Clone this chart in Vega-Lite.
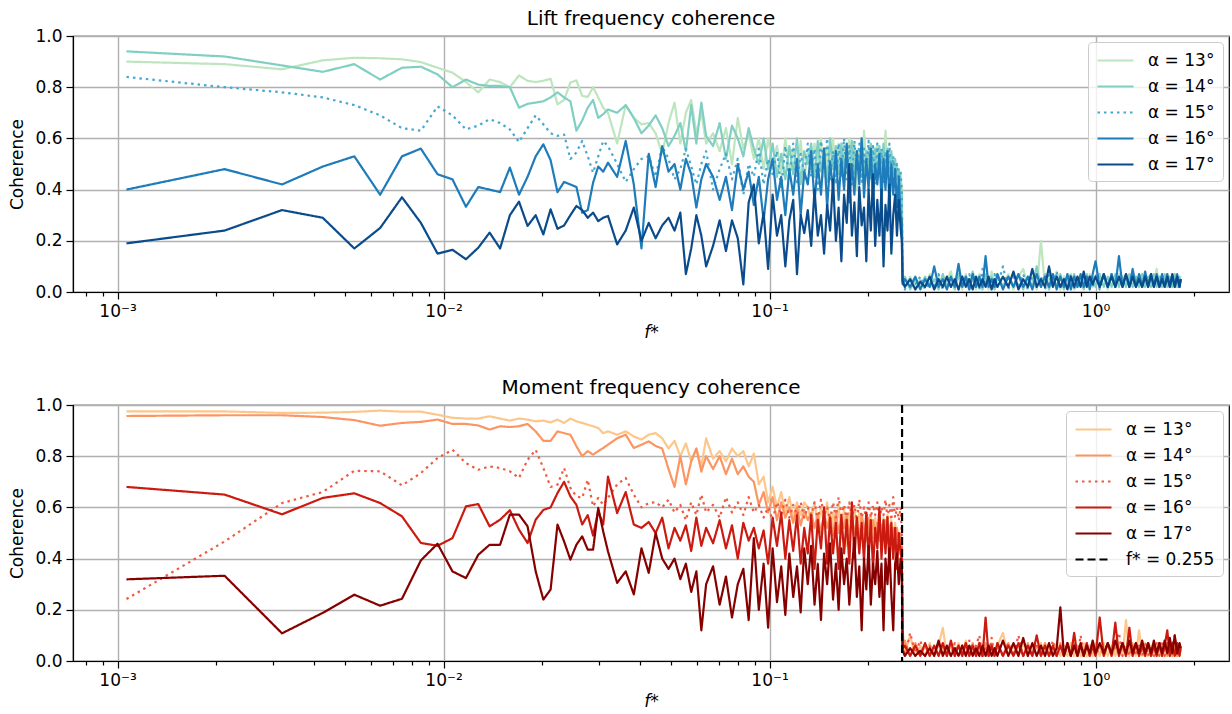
{
"$schema": "https://vega.github.io/schema/vega-lite/v6.json",
"padding": {"left": 8, "top": 8, "right": 1, "bottom": 2},
"background": "white",
"config": {
  "font": "DejaVu Sans",
  "view": {"stroke": "black", "strokeWidth": 1.2},
  "title": {"font": "DejaVu Sans", "fontSize": 20, "fontWeight": "normal", "color": "black", "anchor": "middle", "offset": -2},
  "axis": {"labelFont": "DejaVu Sans", "labelFontSize": 17, "labelColor": "black", "titleFont": "DejaVu Sans", "titleFontSize": 17, "titleFontWeight": "normal", "titleColor": "black", "tickColor": "black", "tickWidth": 1.2, "domainColor": "black", "domainWidth": 1.2, "gridColor": "#b0b0b0", "gridWidth": 1.4, "labelPadding": 4},
  "legend": {"orient": "top-right", "offset": 6, "fillColor": "rgba(255,255,255,0.8)", "strokeColor": "#cccccc", "cornerRadius": 4, "padding": 8, "labelFont": "DejaVu Sans", "labelFontSize": 17, "labelColor": "black", "symbolType": "M-1,0H3", "symbolStrokeWidth": 2.2, "symbolSize": 324, "rowPadding": 7, "labelLimit": 300, "labelOffset": 31}
},
"datasets": {
"lift": [
{"f":0.001065,"a13":0.90,"a14":0.94,"a15":0.84,"a16":0.40,"a17":0.19},
{"f":0.00213,"a13":0.89,"a14":0.92,"a15":0.80,"a16":0.48,"a17":0.24},
{"f":0.003195,"a13":0.87,"a14":0.885,"a15":0.78,"a16":0.42,"a17":0.32},
{"f":0.00426,"a13":0.905,"a14":0.86,"a15":0.76,"a16":0.49,"a17":0.29},
{"f":0.005325,"a13":0.915,"a14":0.89,"a15":0.73,"a16":0.53,"a17":0.17},
{"f":0.00639,"a13":0.913,"a14":0.83,"a15":0.69,"a16":0.38,"a17":0.25},
{"f":0.007455,"a13":0.909,"a14":0.876,"a15":0.64,"a16":0.53,"a17":0.37},
{"f":0.00852,"a13":0.898,"a14":0.88,"a15":0.63,"a16":0.56,"a17":0.27},
{"f":0.009585,"a13":0.876,"a14":0.85,"a15":0.725,"a16":0.46,"a17":0.15},
{"f":0.01065,"a13":0.857,"a14":0.80,"a15":0.69,"a16":0.44,"a17":0.165},
{"f":0.011715,"a13":0.82,"a14":0.83,"a15":0.635,"a16":0.333,"a17":0.128},
{"f":0.01278,"a13":0.78,"a14":0.81,"a15":0.65,"a16":0.41,"a17":0.173},
{"f":0.013845,"a13":0.83,"a14":0.805,"a15":0.675,"a16":0.40,"a17":0.232},
{"f":0.01491,"a13":0.82,"a14":0.805,"a15":0.66,"a16":0.39,"a17":0.17},
{"f":0.015975,"a13":0.80,"a14":0.80,"a15":0.635,"a16":0.486,"a17":0.30},
{"f":0.01704,"a13":0.846,"a14":0.72,"a15":0.586,"a16":0.38,"a17":0.353},
{"f":0.018105,"a13":0.825,"a14":0.735,"a15":0.64,"a16":0.45,"a17":0.258},
{"f":0.01917,"a13":0.82,"a14":0.74,"a15":0.69,"a16":0.53,"a17":0.30},
{"f":0.020235,"a13":0.825,"a14":0.745,"a15":0.655,"a16":0.577,"a17":0.225},
{"f":0.0213,"a13":0.833,"a14":0.76,"a15":0.62,"a16":0.515,"a17":0.323},
{"f":0.022365,"a13":0.733,"a14":0.78,"a15":0.61,"a16":0.39,"a17":0.247},
{"f":0.02343,"a13":0.75,"a14":0.76,"a15":0.615,"a16":0.43,"a17":0.26},
{"f":0.024495,"a13":0.818,"a14":0.745,"a15":0.52,"a16":0.42,"a17":0.30},
{"f":0.02556,"a13":0.827,"a14":0.63,"a15":0.545,"a16":0.41,"a17":0.336},
{"f":0.026625,"a13":0.766,"a14":0.67,"a15":0.59,"a16":0.31,"a17":0.32},
{"f":0.02769,"a13":0.762,"a14":0.72,"a15":0.53,"a16":0.32,"a17":0.29},
{"f":0.028755,"a13":0.80,"a14":0.75,"a15":0.466,"a16":0.427,"a17":0.31},
{"f":0.02982,"a13":0.76,"a14":0.68,"a15":0.53,"a16":0.49,"a17":0.277},
{"f":0.030885,"a13":0.72,"a14":0.695,"a15":0.59,"a16":0.47,"a17":0.29},
{"f":0.03195,"a13":0.70,"a14":0.713,"a15":0.57,"a16":0.505,"a17":0.297},
{"f":0.03408,"a13":0.58,"a14":0.70,"a15":0.50,"a16":0.45,"a17":0.186},
{"f":0.03621,"a13":0.73,"a14":0.73,"a15":0.43,"a16":0.59,"a17":0.24},
{"f":0.03834,"a13":0.68,"a14":0.68,"a15":0.48,"a16":0.42,"a17":0.33},
{"f":0.04047,"a13":0.655,"a14":0.62,"a15":0.52,"a16":0.17,"a17":0.20},
{"f":0.0426,"a13":0.66,"a14":0.65,"a15":0.53,"a16":0.54,"a17":0.27},
{"f":0.04473,"a13":0.62,"a14":0.69,"a15":0.45,"a16":0.41,"a17":0.21},
{"f":0.04686,"a13":0.54,"a14":0.64,"a15":0.57,"a16":0.57,"a17":0.26},
{"f":0.04899,"a13":0.66,"a14":0.57,"a15":0.52,"a16":0.47,"a17":0.29},
{"f":0.05112,"a13":0.74,"a14":0.61,"a15":0.44,"a16":0.50,"a17":0.24},
{"f":0.05325,"a13":0.58,"a14":0.66,"a15":0.48,"a16":0.40,"a17":0.31},
{"f":0.05538,"a13":0.70,"a14":0.55,"a15":0.56,"a16":0.52,"a17":0.07},
{"f":0.05751,"a13":0.75,"a14":0.73,"a15":0.49,"a16":0.46,"a17":0.17},
{"f":0.05964,"a13":0.62,"a14":0.58,"a15":0.42,"a16":0.33,"a17":0.30},
{"f":0.06177,"a13":0.70,"a14":0.74,"a15":0.50,"a16":0.44,"a17":0.22},
{"f":0.0639,"a13":0.58,"a14":0.61,"a15":0.55,"a16":0.50,"a17":0.10},
{"f":0.0671,"a13":0.62,"a14":0.57,"a15":0.40,"a16":0.45,"a17":0.18},
{"f":0.0703,"a13":0.55,"a14":0.66,"a15":0.48,"a16":0.36,"a17":0.28},
{"f":0.0735,"a13":0.64,"a14":0.52,"a15":0.54,"a16":0.45,"a17":0.16},
{"f":0.0767,"a13":0.50,"a14":0.65,"a15":0.44,"a16":0.32,"a17":0.28},
{"f":0.0799,"a13":0.68,"a14":0.60,"a15":0.52,"a16":0.50,"a17":0.21},
{"f":0.0831,"a13":0.56,"a14":0.53,"a15":0.38,"a16":0.40,"a17":0.03},
{"f":0.0863,"a13":0.62,"a14":0.64,"a15":0.50,"a16":0.47,"a17":0.35},
{"f":0.0895,"a13":0.52,"a14":0.56,"a15":0.45,"a16":0.34,"a17":0.42},
{"f":0.0927,"a13":0.60,"a14":0.50,"a15":0.56,"a16":0.45,"a17":0.19},
{"f":0.0959,"a13":0.48,"a14":0.60,"a15":0.42,"a16":0.28,"a17":0.31},
{"f":0.0990,"a13":0.60,"a14":0.48,"a15":0.52,"a16":0.44,"a17":0.09},
{"f":0.1022,"a13":0.50,"a14":0.58,"a15":0.46,"a16":0.52,"a17":0.38},
{"f":0.1054,"a13":0.57,"a14":0.45,"a15":0.55,"a16":0.36,"a17":0.22},
{"f":0.1086,"a13":0.46,"a14":0.54,"a15":0.40,"a16":0.45,"a17":0.30},
{"f":0.1118,"a13":0.60,"a14":0.44,"a15":0.57,"a16":0.30,"a17":0.10},
{"f":0.1150,"a13":0.47,"a14":0.57,"a15":0.44,"a16":0.48,"a17":0.28},
{"f":0.1182,"a13":0.56,"a14":0.46,"a15":0.58,"a16":0.38,"a17":0.36},
{"f":0.1214,"a13":0.48,"a14":0.60,"a15":0.42,"a16":0.52,"a17":0.07},
{"f":0.1246,"a13":0.59,"a14":0.42,"a15":0.54,"a16":0.30,"a17":0.30},
{"f":0.1278,"a13":0.44,"a14":0.55,"a15":0.46,"a16":0.47,"a17":0.23},
{"f":0.1310,"a13":0.55,"a14":0.50,"a15":0.58,"a16":0.42,"a17":0.32},
{"f":0.1342,"a13":0.46,"a14":0.58,"a15":0.45,"a16":0.55,"a17":0.18},
{"f":0.1374,"a13":0.58,"a14":0.45,"a15":0.56,"a16":0.35,"a17":0.40},
{"f":0.1406,"a13":0.50,"a14":0.59,"a15":0.40,"a16":0.50,"a17":0.22},
{"f":0.1438,"a13":0.60,"a14":0.47,"a15":0.59,"a16":0.38,"a17":0.30},
{"f":0.1470,"a13":0.45,"a14":0.56,"a15":0.48,"a16":0.56,"a17":0.15},
{"f":0.1502,"a13":0.57,"a14":0.43,"a15":0.60,"a16":0.33,"a17":0.34},
{"f":0.1534,"a13":0.48,"a14":0.60,"a15":0.44,"a16":0.51,"a17":0.24},
{"f":0.1566,"a13":0.60,"a14":0.48,"a15":0.55,"a16":0.40,"a17":0.44},
{"f":0.1598,"a13":0.44,"a14":0.57,"a15":0.42,"a16":0.55,"a17":0.20},
{"f":0.1629,"a13":0.58,"a14":0.46,"a15":0.58,"a16":0.36,"a17":0.33},
{"f":0.1661,"a13":0.50,"a14":0.58,"a15":0.45,"a16":0.52,"a17":0.12},
{"f":0.1693,"a13":0.57,"a14":0.47,"a15":0.60,"a16":0.40,"a17":0.38},
{"f":0.1725,"a13":0.47,"a14":0.56,"a15":0.44,"a16":0.58,"a17":0.27},
{"f":0.1757,"a13":0.60,"a14":0.44,"a15":0.57,"a16":0.35,"a17":0.50},
{"f":0.1789,"a13":0.48,"a14":0.59,"a15":0.42,"a16":0.50,"a17":0.22},
{"f":0.1821,"a13":0.58,"a14":0.46,"a15":0.59,"a16":0.38,"a17":0.35},
{"f":0.1853,"a13":0.40,"a14":0.55,"a15":0.47,"a16":0.55,"a17":0.14},
{"f":0.1885,"a13":0.56,"a14":0.45,"a15":0.58,"a16":0.42,"a17":0.41},
{"f":0.1917,"a13":0.46,"a14":0.60,"a15":0.43,"a16":0.60,"a17":0.26},
{"f":0.1949,"a13":0.63,"a14":0.47,"a15":0.56,"a16":0.37,"a17":0.33},
{"f":0.1981,"a13":0.50,"a14":0.55,"a15":0.45,"a16":0.52,"a17":0.12},
{"f":0.2013,"a13":0.56,"a14":0.46,"a15":0.59,"a16":0.40,"a17":0.40},
{"f":0.2045,"a13":0.44,"a14":0.58,"a15":0.44,"a16":0.56,"a17":0.24},
{"f":0.2077,"a13":0.57,"a14":0.47,"a15":0.57,"a16":0.36,"a17":0.46},
{"f":0.2109,"a13":0.48,"a14":0.56,"a15":0.42,"a16":0.50,"a17":0.18},
{"f":0.2141,"a13":0.58,"a14":0.44,"a15":0.58,"a16":0.42,"a17":0.36},
{"f":0.2173,"a13":0.45,"a14":0.57,"a15":0.46,"a16":0.54,"a17":0.22},
{"f":0.2205,"a13":0.55,"a14":0.46,"a15":0.56,"a16":0.36,"a17":0.40},
{"f":0.2237,"a13":0.47,"a14":0.58,"a15":0.43,"a16":0.52,"a17":0.10},
{"f":0.2268,"a13":0.63,"a14":0.45,"a15":0.55,"a16":0.40,"a17":0.34},
{"f":0.2300,"a13":0.46,"a14":0.56,"a15":0.47,"a16":0.55,"a17":0.24},
{"f":0.2332,"a13":0.55,"a14":0.47,"a15":0.58,"a16":0.34,"a17":0.42},
{"f":0.2364,"a13":0.44,"a14":0.55,"a15":0.42,"a16":0.50,"a17":0.15},
{"f":0.2396,"a13":0.52,"a14":0.46,"a15":0.53,"a16":0.38,"a17":0.30},
{"f":0.2428,"a13":0.45,"a14":0.52,"a15":0.46,"a16":0.48,"a17":0.38},
{"f":0.2460,"a13":0.50,"a14":0.44,"a15":0.50,"a16":0.33,"a17":0.22},
{"f":0.2492,"a13":0.42,"a14":0.48,"a15":0.44,"a16":0.45,"a17":0.36},
{"f":0.2524,"a13":0.46,"a14":0.42,"a15":0.47,"a16":0.30,"a17":0.25},
{"f":0.2545,"a13":0.40,"a14":0.38,"a15":0.40,"a16":0.28,"a17":0.20},
{"f":0.256,"a13":0.05,"a14":0.04,"a15":0.06,"a16":0.03,"a17":0.04},
{"f":0.26,"a13":0.02,"a14":0.06,"a15":0.01,"a16":0.05,"a17":0.02},
{"f":0.27,"a13":0.06,"a14":0.01,"a15":0.05,"a16":0.02,"a17":0.05},
{"f":0.28,"a13":0.01,"a14":0.05,"a15":0.03,"a16":0.06,"a17":0.01},
{"f":0.29,"a13":0.05,"a14":0.02,"a15":0.06,"a16":0.01,"a17":0.04},
{"f":0.30,"a13":0.02,"a14":0.06,"a15":0.01,"a16":0.05,"a17":0.02},
{"f":0.31,"a13":0.07,"a14":0.02,"a15":0.04,"a16":0.02,"a17":0.06},
{"f":0.32,"a13":0.01,"a14":0.05,"a15":0.02,"a16":0.10,"a17":0.01},
{"f":0.33,"a13":0.06,"a14":0.01,"a15":0.07,"a16":0.02,"a17":0.05},
{"f":0.34,"a13":0.02,"a14":0.07,"a15":0.01,"a16":0.05,"a17":0.02},
{"f":0.35,"a13":0.05,"a14":0.02,"a15":0.06,"a16":0.01,"a17":0.06},
{"f":0.36,"a13":0.08,"a14":0.06,"a15":0.02,"a16":0.06,"a17":0.02},
{"f":0.37,"a13":0.02,"a14":0.01,"a15":0.05,"a16":0.02,"a17":0.05},
{"f":0.38,"a13":0.06,"a14":0.07,"a15":0.01,"a16":0.11,"a17":0.01},
{"f":0.39,"a13":0.01,"a14":0.02,"a15":0.06,"a16":0.02,"a17":0.06},
{"f":0.40,"a13":0.07,"a14":0.05,"a15":0.02,"a16":0.06,"a17":0.02},
{"f":0.41,"a13":0.02,"a14":0.01,"a15":0.07,"a16":0.01,"a17":0.05},
{"f":0.42,"a13":0.06,"a14":0.08,"a15":0.02,"a16":0.07,"a17":0.01},
{"f":0.43,"a13":0.01,"a14":0.02,"a15":0.05,"a16":0.02,"a17":0.06},
{"f":0.44,"a13":0.07,"a14":0.06,"a15":0.01,"a16":0.06,"a17":0.02},
{"f":0.45,"a13":0.02,"a14":0.01,"a15":0.09,"a16":0.02,"a17":0.05},
{"f":0.46,"a13":0.06,"a14":0.07,"a15":0.02,"a16":0.14,"a17":0.02},
{"f":0.47,"a13":0.01,"a14":0.02,"a15":0.06,"a16":0.02,"a17":0.06},
{"f":0.48,"a13":0.08,"a14":0.06,"a15":0.01,"a16":0.05,"a17":0.01},
{"f":0.49,"a13":0.02,"a14":0.01,"a15":0.07,"a16":0.02,"a17":0.05},
{"f":0.50,"a13":0.06,"a14":0.07,"a15":0.02,"a16":0.07,"a17":0.02},
{"f":0.52,"a13":0.02,"a14":0.02,"a15":0.10,"a16":0.01,"a17":0.06},
{"f":0.54,"a13":0.07,"a14":0.06,"a15":0.01,"a16":0.06,"a17":0.02},
{"f":0.56,"a13":0.01,"a14":0.02,"a15":0.06,"a16":0.02,"a17":0.08},
{"f":0.58,"a13":0.06,"a14":0.07,"a15":0.02,"a16":0.07,"a17":0.01},
{"f":0.60,"a13":0.09,"a14":0.01,"a15":0.07,"a16":0.02,"a17":0.05},
{"f":0.62,"a13":0.02,"a14":0.06,"a15":0.01,"a16":0.06,"a17":0.02},
{"f":0.64,"a13":0.06,"a14":0.02,"a15":0.06,"a16":0.01,"a17":0.09},
{"f":0.66,"a13":0.01,"a14":0.10,"a15":0.02,"a16":0.07,"a17":0.02},
{"f":0.68,"a13":0.20,"a14":0.02,"a15":0.06,"a16":0.02,"a17":0.05},
{"f":0.70,"a13":0.02,"a14":0.07,"a15":0.01,"a16":0.06,"a17":0.02},
{"f":0.72,"a13":0.06,"a14":0.01,"a15":0.07,"a16":0.02,"a17":0.10},
{"f":0.74,"a13":0.02,"a14":0.06,"a15":0.02,"a16":0.07,"a17":0.02},
{"f":0.76,"a13":0.08,"a14":0.02,"a15":0.08,"a16":0.01,"a17":0.06},
{"f":0.78,"a13":0.01,"a14":0.07,"a15":0.01,"a16":0.06,"a17":0.02},
{"f":0.80,"a13":0.06,"a14":0.01,"a15":0.06,"a16":0.02,"a17":0.05},
{"f":0.82,"a13":0.02,"a14":0.06,"a15":0.02,"a16":0.07,"a17":0.01},
{"f":0.84,"a13":0.07,"a14":0.02,"a15":0.07,"a16":0.01,"a17":0.06},
{"f":0.86,"a13":0.01,"a14":0.07,"a15":0.01,"a16":0.06,"a17":0.02},
{"f":0.88,"a13":0.06,"a14":0.02,"a15":0.06,"a16":0.02,"a17":0.06},
{"f":0.90,"a13":0.02,"a14":0.06,"a15":0.02,"a16":0.07,"a17":0.02},
{"f":0.92,"a13":0.06,"a14":0.01,"a15":0.07,"a16":0.02,"a17":0.08},
{"f":0.94,"a13":0.02,"a14":0.07,"a15":0.02,"a16":0.06,"a17":0.02},
{"f":0.96,"a13":0.07,"a14":0.02,"a15":0.06,"a16":0.01,"a17":0.06},
{"f":0.98,"a13":0.02,"a14":0.06,"a15":0.02,"a16":0.07,"a17":0.03},
{"f":1.00,"a13":0.06,"a14":0.02,"a15":0.07,"a16":0.12,"a17":0.06},
{"f":1.03,"a13":0.02,"a14":0.07,"a15":0.01,"a16":0.02,"a17":0.02},
{"f":1.06,"a13":0.07,"a14":0.02,"a15":0.06,"a16":0.07,"a17":0.07},
{"f":1.09,"a13":0.01,"a14":0.06,"a15":0.02,"a16":0.02,"a17":0.02},
{"f":1.12,"a13":0.06,"a14":0.02,"a15":0.07,"a16":0.07,"a17":0.06},
{"f":1.15,"a13":0.02,"a14":0.07,"a15":0.02,"a16":0.02,"a17":0.02},
{"f":1.18,"a13":0.07,"a14":0.02,"a15":0.06,"a16":0.14,"a17":0.06},
{"f":1.21,"a13":0.02,"a14":0.06,"a15":0.02,"a16":0.02,"a17":0.02},
{"f":1.24,"a13":0.06,"a14":0.02,"a15":0.07,"a16":0.07,"a17":0.07},
{"f":1.27,"a13":0.02,"a14":0.07,"a15":0.02,"a16":0.02,"a17":0.02},
{"f":1.30,"a13":0.08,"a14":0.02,"a15":0.06,"a16":0.09,"a17":0.06},
{"f":1.33,"a13":0.02,"a14":0.06,"a15":0.02,"a16":0.02,"a17":0.02},
{"f":1.36,"a13":0.06,"a14":0.02,"a15":0.07,"a16":0.07,"a17":0.05},
{"f":1.39,"a13":0.02,"a14":0.07,"a15":0.02,"a16":0.02,"a17":0.02},
{"f":1.42,"a13":0.07,"a14":0.02,"a15":0.06,"a16":0.08,"a17":0.06},
{"f":1.45,"a13":0.02,"a14":0.06,"a15":0.02,"a16":0.02,"a17":0.02},
{"f":1.48,"a13":0.06,"a14":0.02,"a15":0.07,"a16":0.07,"a17":0.07},
{"f":1.51,"a13":0.02,"a14":0.07,"a15":0.02,"a16":0.02,"a17":0.02},
{"f":1.54,"a13":0.09,"a14":0.02,"a15":0.06,"a16":0.07,"a17":0.06},
{"f":1.57,"a13":0.02,"a14":0.06,"a15":0.02,"a16":0.02,"a17":0.02},
{"f":1.60,"a13":0.06,"a14":0.02,"a15":0.07,"a16":0.07,"a17":0.05},
{"f":1.63,"a13":0.02,"a14":0.07,"a15":0.02,"a16":0.02,"a17":0.02},
{"f":1.66,"a13":0.07,"a14":0.02,"a15":0.06,"a16":0.07,"a17":0.06},
{"f":1.69,"a13":0.02,"a14":0.06,"a15":0.02,"a16":0.02,"a17":0.02},
{"f":1.72,"a13":0.06,"a14":0.02,"a15":0.07,"a16":0.06,"a17":0.07},
{"f":1.75,"a13":0.02,"a14":0.07,"a15":0.02,"a16":0.02,"a17":0.02},
{"f":1.78,"a13":0.06,"a14":0.02,"a15":0.06,"a16":0.07,"a17":0.06},
{"f":1.81,"a13":0.02,"a14":0.06,"a15":0.02,"a16":0.02,"a17":0.02},
{"f":1.825,"a13":0.05,"a14":0.04,"a15":0.05,"a16":0.05,"a17":0.05}
],
"moment": [
{"f":0.001065,"a13":0.975,"a14":0.957,"a15":0.242,"a16":0.68,"a17":0.319},
{"f":0.00213,"a13":0.975,"a14":0.96,"a15":0.467,"a16":0.65,"a17":0.333},
{"f":0.003195,"a13":0.969,"a14":0.96,"a15":0.617,"a16":0.573,"a17":0.108},
{"f":0.00426,"a13":0.97,"a14":0.953,"a15":0.66,"a16":0.637,"a17":0.188},
{"f":0.005325,"a13":0.973,"a14":0.941,"a15":0.743,"a16":0.655,"a17":0.259},
{"f":0.00639,"a13":0.978,"a14":0.919,"a15":0.741,"a16":0.617,"a17":0.216},
{"f":0.007455,"a13":0.974,"a14":0.93,"a15":0.686,"a16":0.565,"a17":0.243},
{"f":0.00852,"a13":0.974,"a14":0.934,"a15":0.734,"a16":0.461,"a17":0.393},
{"f":0.009585,"a13":0.962,"a14":0.943,"a15":0.793,"a16":0.45,"a17":0.458},
{"f":0.01065,"a13":0.95,"a14":0.926,"a15":0.825,"a16":0.48,"a17":0.35},
{"f":0.011715,"a13":0.947,"a14":0.926,"a15":0.773,"a16":0.604,"a17":0.324},
{"f":0.01278,"a13":0.947,"a14":0.92,"a15":0.747,"a16":0.613,"a17":0.415},
{"f":0.013845,"a13":0.956,"a14":0.904,"a15":0.76,"a16":0.526,"a17":0.454},
{"f":0.01491,"a13":0.947,"a14":0.917,"a15":0.754,"a16":0.552,"a17":0.454},
{"f":0.015975,"a13":0.939,"a14":0.914,"a15":0.741,"a16":0.589,"a17":0.572},
{"f":0.01704,"a13":0.947,"a14":0.917,"a15":0.715,"a16":0.513,"a17":0.572},
{"f":0.018105,"a13":0.943,"a14":0.926,"a15":0.786,"a16":0.461,"a17":0.526},
{"f":0.01917,"a13":0.936,"a14":0.897,"a15":0.825,"a16":0.552,"a17":0.35},
{"f":0.020235,"a13":0.939,"a14":0.86,"a15":0.754,"a16":0.59,"a17":0.24},
{"f":0.0213,"a13":0.932,"a14":0.86,"a15":0.68,"a16":0.60,"a17":0.279},
{"f":0.022365,"a13":0.943,"a14":0.897,"a15":0.689,"a16":0.656,"a17":0.533},
{"f":0.02343,"a13":0.93,"a14":0.89,"a15":0.754,"a16":0.70,"a17":0.467},
{"f":0.024495,"a13":0.947,"a14":0.884,"a15":0.676,"a16":0.643,"a17":0.396},
{"f":0.02556,"a13":0.936,"a14":0.839,"a15":0.643,"a16":0.61,"a17":0.454},
{"f":0.026625,"a13":0.93,"a14":0.80,"a15":0.637,"a16":0.533,"a17":0.487},
{"f":0.02769,"a13":0.923,"a14":0.82,"a15":0.708,"a16":0.57,"a17":0.435},
{"f":0.028755,"a13":0.917,"a14":0.806,"a15":0.604,"a16":0.49,"a17":0.435},
{"f":0.02982,"a13":0.91,"a14":0.82,"a15":0.637,"a16":0.585,"a17":0.598},
{"f":0.030885,"a13":0.89,"a14":0.832,"a15":0.61,"a16":0.533,"a17":0.506},
{"f":0.03195,"a13":0.897,"a14":0.845,"a15":0.637,"a16":0.72,"a17":0.428},
{"f":0.03408,"a13":0.884,"a14":0.87,"a15":0.69,"a16":0.578,"a17":0.305},
{"f":0.03621,"a13":0.897,"a14":0.884,"a15":0.715,"a16":0.66,"a17":0.35},
{"f":0.03834,"a13":0.877,"a14":0.832,"a15":0.65,"a16":0.533,"a17":0.26},
{"f":0.04047,"a13":0.865,"a14":0.845,"a15":0.60,"a16":0.52,"a17":0.44},
{"f":0.0426,"a13":0.884,"a14":0.858,"a15":0.617,"a16":0.543,"a17":0.344},
{"f":0.04473,"a13":0.89,"a14":0.84,"a15":0.62,"a16":0.50,"a17":0.50},
{"f":0.04686,"a13":0.87,"a14":0.83,"a15":0.60,"a16":0.56,"a17":0.40},
{"f":0.04899,"a13":0.83,"a14":0.75,"a15":0.63,"a16":0.44,"a17":0.36},
{"f":0.05112,"a13":0.86,"a14":0.68,"a15":0.58,"a16":0.52,"a17":0.40},
{"f":0.05325,"a13":0.80,"a14":0.80,"a15":0.61,"a16":0.47,"a17":0.32},
{"f":0.05538,"a13":0.85,"a14":0.69,"a15":0.55,"a16":0.53,"a17":0.38},
{"f":0.05751,"a13":0.78,"a14":0.78,"a15":0.62,"a16":0.43,"a17":0.27},
{"f":0.05964,"a13":0.83,"a14":0.83,"a15":0.57,"a16":0.56,"a17":0.35},
{"f":0.06177,"a13":0.76,"a14":0.74,"a15":0.65,"a16":0.45,"a17":0.12},
{"f":0.0639,"a13":0.87,"a14":0.80,"a15":0.58,"a16":0.52,"a17":0.30},
{"f":0.0671,"a13":0.79,"a14":0.75,"a15":0.61,"a16":0.46,"a17":0.37},
{"f":0.0703,"a13":0.82,"a14":0.80,"a15":0.56,"a16":0.55,"a17":0.22},
{"f":0.0735,"a13":0.78,"a14":0.73,"a15":0.64,"a16":0.44,"a17":0.33},
{"f":0.0767,"a13":0.83,"a14":0.79,"a15":0.58,"a16":0.53,"a17":0.17},
{"f":0.0799,"a13":0.80,"a14":0.73,"a15":0.62,"a16":0.40,"a17":0.30},
{"f":0.0831,"a13":0.82,"a14":0.76,"a15":0.57,"a16":0.54,"a17":0.36},
{"f":0.0863,"a13":0.76,"a14":0.72,"a15":0.64,"a16":0.47,"a17":0.16},
{"f":0.0895,"a13":0.81,"a14":0.70,"a15":0.58,"a16":0.52,"a17":0.48},
{"f":0.0927,"a13":0.69,"a14":0.61,"a15":0.61,"a16":0.44,"a17":0.20},
{"f":0.0959,"a13":0.72,"a14":0.66,"a15":0.56,"a16":0.51,"a17":0.38},
{"f":0.0990,"a13":0.62,"a14":0.58,"a15":0.60,"a16":0.38,"a17":0.13},
{"f":0.1022,"a13":0.68,"a14":0.64,"a15":0.55,"a16":0.56,"a17":0.44},
{"f":0.1054,"a13":0.60,"a14":0.55,"a15":0.62,"a16":0.45,"a17":0.23},
{"f":0.1086,"a13":0.66,"a14":0.62,"a15":0.57,"a16":0.58,"a17":0.37},
{"f":0.1118,"a13":0.58,"a14":0.56,"a15":0.63,"a16":0.40,"a17":0.18},
{"f":0.1150,"a13":0.64,"a14":0.60,"a15":0.56,"a16":0.55,"a17":0.42},
{"f":0.1182,"a13":0.56,"a14":0.54,"a15":0.61,"a16":0.43,"a17":0.25},
{"f":0.1214,"a13":0.62,"a14":0.60,"a15":0.57,"a16":0.57,"a17":0.37},
{"f":0.1246,"a13":0.57,"a14":0.53,"a15":0.62,"a16":0.38,"a17":0.19},
{"f":0.1278,"a13":0.62,"a14":0.59,"a15":0.56,"a16":0.52,"a17":0.44},
{"f":0.1310,"a13":0.60,"a14":0.55,"a15":0.60,"a16":0.42,"a17":0.30},
{"f":0.1342,"a13":0.55,"a14":0.58,"a15":0.57,"a16":0.57,"a17":0.45},
{"f":0.1374,"a13":0.62,"a14":0.52,"a15":0.62,"a16":0.36,"a17":0.22},
{"f":0.1406,"a13":0.52,"a14":0.57,"a15":0.55,"a16":0.55,"a17":0.38},
{"f":0.1438,"a13":0.60,"a14":0.50,"a15":0.63,"a16":0.44,"a17":0.16},
{"f":0.1470,"a13":0.54,"a14":0.58,"a15":0.57,"a16":0.60,"a17":0.42},
{"f":0.1502,"a13":0.62,"a14":0.52,"a15":0.60,"a16":0.38,"a17":0.30},
{"f":0.1534,"a13":0.50,"a14":0.57,"a15":0.55,"a16":0.56,"a17":0.46},
{"f":0.1566,"a13":0.58,"a14":0.49,"a15":0.62,"a16":0.42,"a17":0.24},
{"f":0.1598,"a13":0.52,"a14":0.58,"a15":0.56,"a16":0.54,"a17":0.38},
{"f":0.1629,"a13":0.61,"a14":0.50,"a15":0.64,"a16":0.36,"a17":0.20},
{"f":0.1661,"a13":0.48,"a14":0.56,"a15":0.57,"a16":0.57,"a17":0.44},
{"f":0.1693,"a13":0.60,"a14":0.52,"a15":0.61,"a16":0.42,"a17":0.30},
{"f":0.1725,"a13":0.45,"a14":0.57,"a15":0.55,"a16":0.55,"a17":0.40},
{"f":0.1757,"a13":0.58,"a14":0.48,"a15":0.62,"a16":0.38,"a17":0.22},
{"f":0.1789,"a13":0.52,"a14":0.56,"a15":0.56,"a16":0.62,"a17":0.36},
{"f":0.1821,"a13":0.60,"a14":0.50,"a15":0.61,"a16":0.40,"a17":0.48},
{"f":0.1853,"a13":0.50,"a14":0.55,"a15":0.55,"a16":0.56,"a17":0.25},
{"f":0.1885,"a13":0.58,"a14":0.48,"a15":0.63,"a16":0.42,"a17":0.37},
{"f":0.1917,"a13":0.52,"a14":0.57,"a15":0.56,"a16":0.54,"a17":0.12},
{"f":0.1949,"a13":0.45,"a14":0.52,"a15":0.60,"a16":0.39,"a17":0.40},
{"f":0.1981,"a13":0.58,"a14":0.47,"a15":0.55,"a16":0.58,"a17":0.28},
{"f":0.2013,"a13":0.50,"a14":0.56,"a15":0.62,"a16":0.40,"a17":0.45},
{"f":0.2045,"a13":0.57,"a14":0.49,"a15":0.56,"a16":0.55,"a17":0.22},
{"f":0.2077,"a13":0.48,"a14":0.55,"a15":0.61,"a16":0.36,"a17":0.38},
{"f":0.2109,"a13":0.56,"a14":0.50,"a15":0.57,"a16":0.52,"a17":0.30},
{"f":0.2141,"a13":0.50,"a14":0.54,"a15":0.62,"a16":0.44,"a17":0.43},
{"f":0.2173,"a13":0.58,"a14":0.47,"a15":0.55,"a16":0.60,"a17":0.25},
{"f":0.2205,"a13":0.45,"a14":0.53,"a15":0.60,"a16":0.40,"a17":0.38},
{"f":0.2237,"a13":0.56,"a14":0.48,"a15":0.57,"a16":0.55,"a17":0.12},
{"f":0.2268,"a13":0.50,"a14":0.55,"a15":0.63,"a16":0.42,"a17":0.40},
{"f":0.2300,"a13":0.57,"a14":0.46,"a15":0.56,"a16":0.56,"a17":0.30},
{"f":0.2332,"a13":0.48,"a14":0.53,"a15":0.61,"a16":0.38,"a17":0.44},
{"f":0.2364,"a13":0.55,"a14":0.50,"a15":0.55,"a16":0.54,"a17":0.26},
{"f":0.2396,"a13":0.40,"a14":0.52,"a15":0.64,"a16":0.40,"a17":0.12},
{"f":0.2428,"a13":0.54,"a14":0.46,"a15":0.56,"a16":0.52,"a17":0.38},
{"f":0.2460,"a13":0.47,"a14":0.52,"a15":0.60,"a16":0.36,"a17":0.42},
{"f":0.2492,"a13":0.50,"a14":0.47,"a15":0.55,"a16":0.50,"a17":0.30},
{"f":0.2524,"a13":0.44,"a14":0.50,"a15":0.60,"a16":0.42,"a17":0.40},
{"f":0.2545,"a13":0.38,"a14":0.45,"a15":0.50,"a16":0.40,"a17":0.35},
{"f":0.256,"a13":0.12,"a14":0.06,"a15":0.08,"a16":0.05,"a17":0.04},
{"f":0.26,"a13":0.03,"a14":0.08,"a15":0.02,"a16":0.06,"a17":0.02},
{"f":0.27,"a13":0.10,"a14":0.02,"a15":0.11,"a16":0.02,"a17":0.05},
{"f":0.28,"a13":0.02,"a14":0.07,"a15":0.03,"a16":0.06,"a17":0.02},
{"f":0.29,"a13":0.06,"a14":0.02,"a15":0.08,"a16":0.02,"a17":0.04},
{"f":0.30,"a13":0.02,"a14":0.06,"a15":0.02,"a16":0.07,"a17":0.02},
{"f":0.31,"a13":0.07,"a14":0.02,"a15":0.06,"a16":0.02,"a17":0.05},
{"f":0.32,"a13":0.02,"a14":0.06,"a15":0.02,"a16":0.06,"a17":0.02},
{"f":0.33,"a13":0.06,"a14":0.02,"a15":0.07,"a16":0.02,"a17":0.08},
{"f":0.34,"a13":0.13,"a14":0.06,"a15":0.02,"a16":0.07,"a17":0.02},
{"f":0.35,"a13":0.02,"a14":0.02,"a15":0.06,"a16":0.02,"a17":0.06},
{"f":0.36,"a13":0.06,"a14":0.07,"a15":0.02,"a16":0.08,"a17":0.02},
{"f":0.37,"a13":0.02,"a14":0.02,"a15":0.07,"a16":0.02,"a17":0.05},
{"f":0.38,"a13":0.07,"a14":0.06,"a15":0.02,"a16":0.06,"a17":0.02},
{"f":0.39,"a13":0.02,"a14":0.02,"a15":0.06,"a16":0.02,"a17":0.06},
{"f":0.40,"a13":0.08,"a14":0.07,"a15":0.02,"a16":0.07,"a17":0.02},
{"f":0.41,"a13":0.02,"a14":0.02,"a15":0.08,"a16":0.02,"a17":0.06},
{"f":0.42,"a13":0.06,"a14":0.07,"a15":0.02,"a16":0.06,"a17":0.02},
{"f":0.43,"a13":0.02,"a14":0.02,"a15":0.06,"a16":0.02,"a17":0.05},
{"f":0.44,"a13":0.07,"a14":0.06,"a15":0.10,"a16":0.07,"a17":0.02},
{"f":0.45,"a13":0.02,"a14":0.02,"a15":0.02,"a16":0.02,"a17":0.06},
{"f":0.46,"a13":0.06,"a14":0.07,"a15":0.06,"a16":0.17,"a17":0.02},
{"f":0.47,"a13":0.02,"a14":0.02,"a15":0.02,"a16":0.02,"a17":0.06},
{"f":0.48,"a13":0.07,"a14":0.06,"a15":0.09,"a16":0.06,"a17":0.02},
{"f":0.49,"a13":0.02,"a14":0.02,"a15":0.02,"a16":0.02,"a17":0.05},
{"f":0.50,"a13":0.06,"a14":0.07,"a15":0.06,"a16":0.07,"a17":0.02},
{"f":0.52,"a13":0.11,"a14":0.02,"a15":0.02,"a16":0.02,"a17":0.08},
{"f":0.54,"a13":0.02,"a14":0.07,"a15":0.07,"a16":0.06,"a17":0.02},
{"f":0.56,"a13":0.06,"a14":0.02,"a15":0.02,"a16":0.02,"a17":0.07},
{"f":0.58,"a13":0.02,"a14":0.06,"a15":0.10,"a16":0.07,"a17":0.02},
{"f":0.60,"a13":0.07,"a14":0.02,"a15":0.02,"a16":0.02,"a17":0.09},
{"f":0.62,"a13":0.02,"a14":0.07,"a15":0.06,"a16":0.06,"a17":0.02},
{"f":0.64,"a13":0.06,"a14":0.02,"a15":0.02,"a16":0.02,"a17":0.07},
{"f":0.66,"a13":0.02,"a14":0.06,"a15":0.07,"a16":0.10,"a17":0.02},
{"f":0.68,"a13":0.07,"a14":0.02,"a15":0.02,"a16":0.02,"a17":0.06},
{"f":0.70,"a13":0.02,"a14":0.07,"a15":0.06,"a16":0.06,"a17":0.02},
{"f":0.72,"a13":0.06,"a14":0.02,"a15":0.02,"a16":0.02,"a17":0.07},
{"f":0.74,"a13":0.02,"a14":0.06,"a15":0.08,"a16":0.06,"a17":0.02},
{"f":0.76,"a13":0.07,"a14":0.02,"a15":0.02,"a16":0.02,"a17":0.05},
{"f":0.78,"a13":0.02,"a14":0.07,"a15":0.06,"a16":0.06,"a17":0.21},
{"f":0.80,"a13":0.06,"a14":0.02,"a15":0.02,"a16":0.02,"a17":0.02},
{"f":0.82,"a13":0.02,"a14":0.06,"a15":0.07,"a16":0.07,"a17":0.07},
{"f":0.84,"a13":0.07,"a14":0.02,"a15":0.02,"a16":0.02,"a17":0.02},
{"f":0.86,"a13":0.02,"a14":0.07,"a15":0.06,"a16":0.11,"a17":0.06},
{"f":0.88,"a13":0.06,"a14":0.02,"a15":0.02,"a16":0.02,"a17":0.02},
{"f":0.90,"a13":0.02,"a14":0.06,"a15":0.10,"a16":0.06,"a17":0.07},
{"f":0.92,"a13":0.07,"a14":0.02,"a15":0.02,"a16":0.02,"a17":0.02},
{"f":0.94,"a13":0.02,"a14":0.07,"a15":0.06,"a16":0.07,"a17":0.06},
{"f":0.96,"a13":0.06,"a14":0.02,"a15":0.02,"a16":0.02,"a17":0.03},
{"f":0.98,"a13":0.02,"a14":0.06,"a15":0.07,"a16":0.06,"a17":0.08},
{"f":1.00,"a13":0.07,"a14":0.02,"a15":0.02,"a16":0.02,"a17":0.03},
{"f":1.03,"a13":0.02,"a14":0.06,"a15":0.06,"a16":0.17,"a17":0.07},
{"f":1.06,"a13":0.07,"a14":0.02,"a15":0.02,"a16":0.02,"a17":0.03},
{"f":1.09,"a13":0.02,"a14":0.07,"a15":0.07,"a16":0.07,"a17":0.07},
{"f":1.12,"a13":0.06,"a14":0.02,"a15":0.02,"a16":0.02,"a17":0.03},
{"f":1.15,"a13":0.02,"a14":0.06,"a15":0.06,"a16":0.15,"a17":0.08},
{"f":1.18,"a13":0.07,"a14":0.02,"a15":0.11,"a16":0.02,"a17":0.03},
{"f":1.21,"a13":0.02,"a14":0.07,"a15":0.02,"a16":0.07,"a17":0.07},
{"f":1.24,"a13":0.16,"a14":0.02,"a15":0.06,"a16":0.02,"a17":0.03},
{"f":1.27,"a13":0.02,"a14":0.06,"a15":0.02,"a16":0.13,"a17":0.08},
{"f":1.30,"a13":0.07,"a14":0.02,"a15":0.07,"a16":0.02,"a17":0.03},
{"f":1.33,"a13":0.02,"a14":0.07,"a15":0.02,"a16":0.07,"a17":0.07},
{"f":1.36,"a13":0.12,"a14":0.02,"a15":0.06,"a16":0.02,"a17":0.03},
{"f":1.39,"a13":0.02,"a14":0.06,"a15":0.02,"a16":0.06,"a17":0.08},
{"f":1.42,"a13":0.07,"a14":0.02,"a15":0.07,"a16":0.02,"a17":0.03},
{"f":1.45,"a13":0.02,"a14":0.07,"a15":0.02,"a16":0.07,"a17":0.07},
{"f":1.48,"a13":0.06,"a14":0.02,"a15":0.06,"a16":0.02,"a17":0.03},
{"f":1.51,"a13":0.02,"a14":0.06,"a15":0.02,"a16":0.06,"a17":0.08},
{"f":1.54,"a13":0.07,"a14":0.02,"a15":0.07,"a16":0.02,"a17":0.03},
{"f":1.57,"a13":0.02,"a14":0.07,"a15":0.02,"a16":0.07,"a17":0.07},
{"f":1.60,"a13":0.06,"a14":0.02,"a15":0.08,"a16":0.02,"a17":0.03},
{"f":1.63,"a13":0.02,"a14":0.06,"a15":0.02,"a16":0.06,"a17":0.08},
{"f":1.66,"a13":0.07,"a14":0.02,"a15":0.07,"a16":0.12,"a17":0.03},
{"f":1.69,"a13":0.02,"a14":0.07,"a15":0.02,"a16":0.02,"a17":0.09},
{"f":1.72,"a13":0.06,"a14":0.02,"a15":0.06,"a16":0.07,"a17":0.03},
{"f":1.75,"a13":0.02,"a14":0.06,"a15":0.10,"a16":0.02,"a17":0.10},
{"f":1.78,"a13":0.07,"a14":0.02,"a15":0.02,"a16":0.07,"a17":0.03},
{"f":1.81,"a13":0.02,"a14":0.06,"a15":0.07,"a16":0.02,"a17":0.07},
{"f":1.825,"a13":0.05,"a14":0.05,"a15":0.05,"a16":0.05,"a17":0.05}
]
},
"vconcat": [
{
  "title": "Lift frequency coherence",
  "width": 1156, "height": 256,
  "data": {"name": "lift"},
  "transform": [{"fold": ["a13","a14","a15","a16","a17"], "as": ["s","c"]}],
  "mark": {"type": "line", "strokeWidth": 2.2, "strokeJoin": "round", "clip": true},
  "encoding": {
    "x": {"field": "f", "type": "quantitative", "title": "f*",
      "scale": {"type": "log", "domain": [0.00073, 2.567], "nice": false},
      "axis": {"values": [0.0008,0.0009,0.001,0.002,0.003,0.004,0.005,0.006,0.007,0.008,0.009,0.01,0.02,0.03,0.04,0.05,0.06,0.07,0.08,0.09,0.1,0.2,0.3,0.4,0.5,0.6,0.7,0.8,0.9,1,2],
        "labelExpr": "datum.value == 0.001 ? '10⁻³' : datum.value == 0.01 ? '10⁻²' : datum.value == 0.1 ? '10⁻¹' : datum.value == 1 ? '10⁰' : ''",
        "labelOverlap": false, "labelFlush": false, "titleFontStyle": "italic", "titlePadding": 5,
        "tickSize": {"condition": {"test": "datum.value == 0.001 || datum.value == 0.01 || datum.value == 0.1 || datum.value == 1", "value": 7}, "value": 4},
        "gridOpacity": {"condition": {"test": "datum.value == 0.001 || datum.value == 0.01 || datum.value == 0.1 || datum.value == 1", "value": 1}, "value": 0}}},
    "y": {"field": "c", "type": "quantitative", "title": "Coherence",
      "scale": {"domain": [0, 1], "nice": false},
      "axis": {"values": [0,0.2,0.4,0.6,0.8,1.0], "format": ".1f", "tickSize": 7, "titlePadding": 8}},
    "color": {"field": "s", "type": "nominal",
      "scale": {"domain": ["a13","a14","a15","a16","a17"], "range": ["#bde5be","#81cfc2","#45a8d1","#1d7cb9","#0a4b8c"]},
      "legend": {"title": null, "labelExpr": "'α = ' + substring(datum.label, 1) + '°'"}},
    "strokeDash": {"field": "s", "type": "nominal",
      "scale": {"domain": ["a13","a14","a15","a16","a17"], "range": [[1,0],[1,0],[2.5,4],[1,0],[1,0]]},
      "legend": {"title": null, "labelExpr": "'α = ' + substring(datum.label, 1) + '°'"}}
  }
},
{
  "title": "Moment frequency coherence",
  "width": 1156, "height": 256,
  "layer": [
    {
      "data": {"name": "moment"},
      "transform": [{"fold": ["a13","a14","a15","a16","a17"], "as": ["s","c"]}],
      "mark": {"type": "line", "strokeWidth": 2.2, "strokeJoin": "round", "clip": true},
      "encoding": {
        "x": {"field": "f", "type": "quantitative", "title": "f*",
          "scale": {"type": "log", "domain": [0.00073, 2.567], "nice": false},
          "axis": {"values": [0.0008,0.0009,0.001,0.002,0.003,0.004,0.005,0.006,0.007,0.008,0.009,0.01,0.02,0.03,0.04,0.05,0.06,0.07,0.08,0.09,0.1,0.2,0.3,0.4,0.5,0.6,0.7,0.8,0.9,1,2],
            "labelExpr": "datum.value == 0.001 ? '10⁻³' : datum.value == 0.01 ? '10⁻²' : datum.value == 0.1 ? '10⁻¹' : datum.value == 1 ? '10⁰' : ''",
            "labelOverlap": false, "labelFlush": false, "titleFontStyle": "italic", "titlePadding": 5,
            "tickSize": {"condition": {"test": "datum.value == 0.001 || datum.value == 0.01 || datum.value == 0.1 || datum.value == 1", "value": 7}, "value": 4},
            "gridOpacity": {"condition": {"test": "datum.value == 0.001 || datum.value == 0.01 || datum.value == 0.1 || datum.value == 1", "value": 1}, "value": 0}}},
        "y": {"field": "c", "type": "quantitative", "title": "Coherence",
          "scale": {"domain": [0, 1], "nice": false},
          "axis": {"values": [0,0.2,0.4,0.6,0.8,1.0], "format": ".1f", "tickSize": 7, "titlePadding": 8}},
        "color": {"field": "s", "type": "nominal",
          "scale": {"domain": ["a13","a14","a15","a16","a17","fs"], "range": ["#fdc68a","#fc9562","#ef5b40","#cb1a10","#860000","black"]},
          "legend": {"title": null, "labelExpr": "datum.label == 'fs' ? 'f* = 0.255' : 'α = ' + substring(datum.label, 1) + '°'"}},
        "strokeDash": {"field": "s", "type": "nominal",
          "scale": {"domain": ["a13","a14","a15","a16","a17","fs"], "range": [[1,0],[1,0],[2.5,4],[1,0],[1,0],[8,4]]},
          "legend": {"title": null, "labelExpr": "datum.label == 'fs' ? 'f* = 0.255' : 'α = ' + substring(datum.label, 1) + '°'"}}
      }
    },
    {
      "data": {"values": [{"f": 0.255, "s": "fs"}]},
      "mark": {"type": "rule", "strokeWidth": 2.2},
      "encoding": {
        "x": {"field": "f", "type": "quantitative"},
        "color": {"field": "s", "type": "nominal"},
        "strokeDash": {"field": "s", "type": "nominal"}
      }
    }
  ]
}
],
"spacing": 113,
"bounds": "flush",
"resolve": {"scale": {"color": "independent", "strokeDash": "independent"}, "legend": {"color": "independent", "strokeDash": "independent"}}
}
